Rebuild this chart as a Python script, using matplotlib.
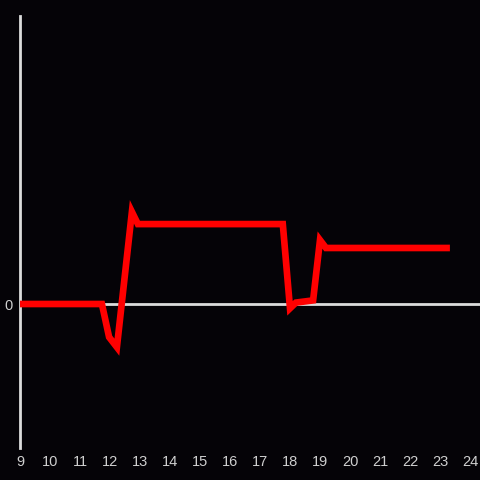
import matplotlib.pyplot as plt

# Values
x_vals = [9.0, 11.73, 11.97, 12.23, 12.73, 12.93, 17.76, 18.0, 18.2, 18.77, 19.0, 19.2, 23.33]
y_vals = [0.0, 0.0, -0.23, -0.3, 0.64, 0.555, 0.555, -0.03, 0.01, 0.025, 0.444, 0.389, 0.389]
x_ticks = list(range(9, 25))
y_ticks = [0]

bg = '#050307'
axis_col = '#dcdcdc'

fig = plt.figure(figsize=(4.8, 4.8), dpi=100, facecolor=bg)
ax = fig.add_axes([20 / 480, 32 / 480, 460 / 480, 432 / 480], facecolor=bg)

# Plot the red line
ax.plot(x_vals, y_vals, color='#ff0000', linewidth=4.8, solid_joinstyle='miter',
        solid_capstyle='butt', zorder=3)

# Zero line and left axis
ax.axhline(0, color=axis_col, linewidth=2, zorder=2)
for side in ['top', 'right', 'bottom']:
    ax.spines[side].set_visible(False)
ax.spines['left'].set_color(axis_col)
ax.spines['left'].set_linewidth(2)

# Limits and ticks
ax.set_xlim(9, 9 + 460 / 30)
ax.set_ylim(-1, 2)
ax.set_xticks(x_ticks)
ax.set_yticks(y_ticks)
ax.tick_params(length=0, colors='#cfcfcf', labelsize=10.5, pad=5)
for lbl in ax.get_xticklabels() + ax.get_yticklabels():
    lbl.set_fontfamily('Liberation Sans')

fig.savefig('out.png', dpi=100, facecolor=bg)
